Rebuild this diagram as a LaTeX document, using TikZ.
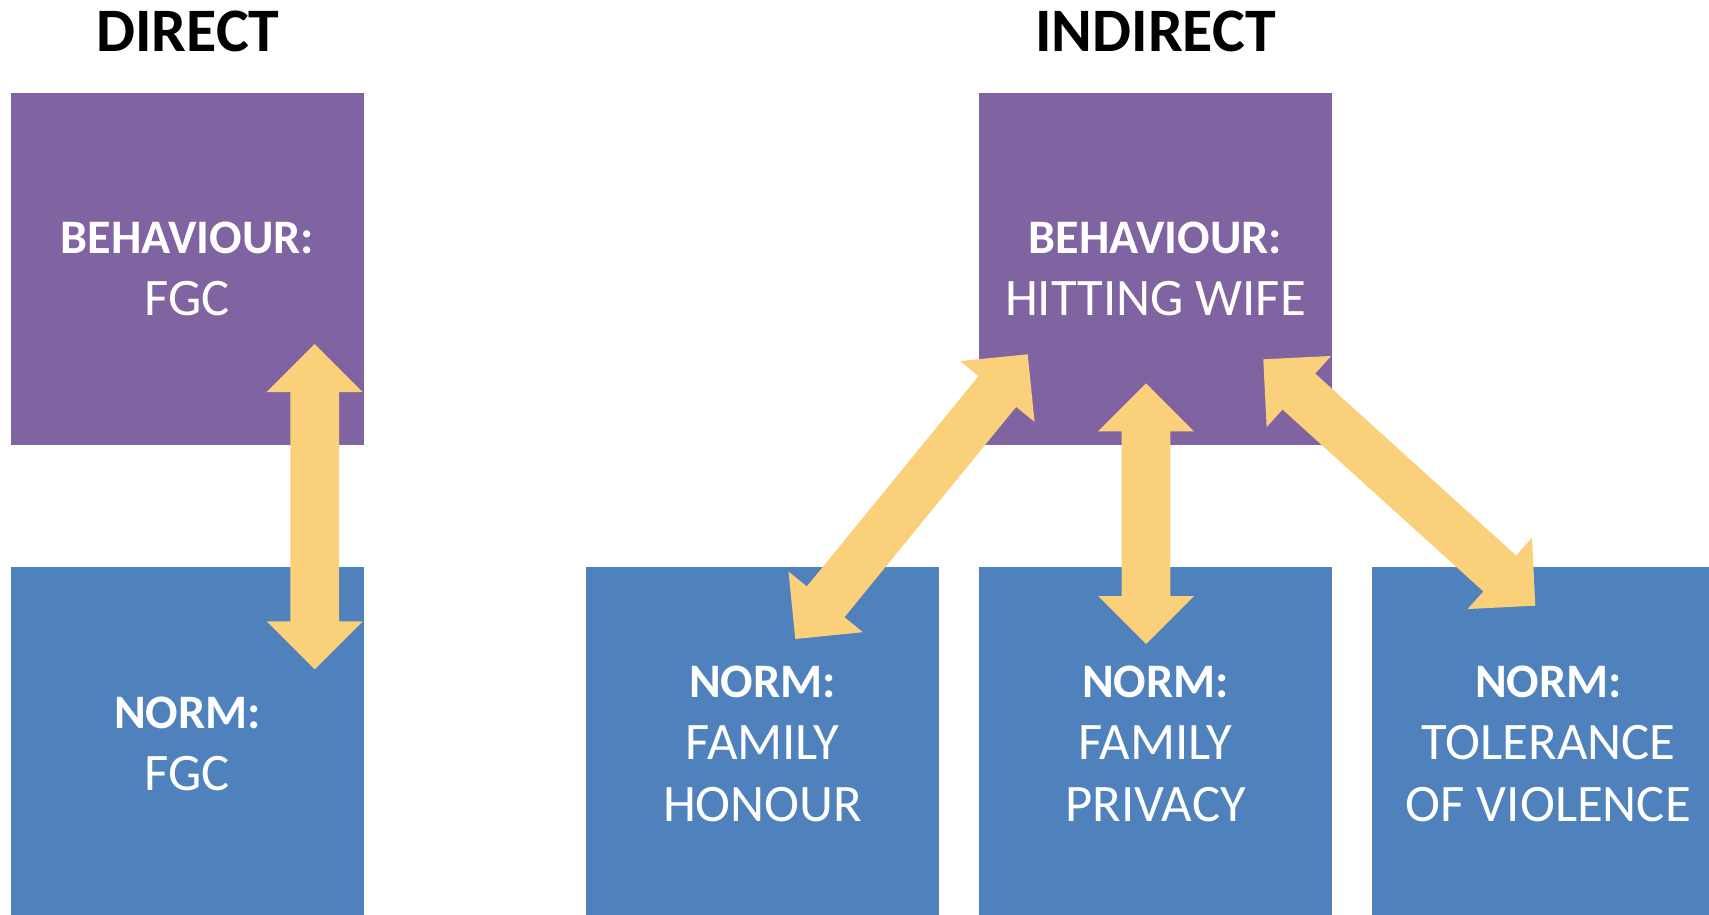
\documentclass[tikz,border=0pt]{standalone}
\usepackage{fontspec}
\setmainfont{Carlito}
\usepackage{xcolor}
\usetikzlibrary{positioning,calc}

\definecolor{behavpurple}{HTML}{8064A2}
\definecolor{normblue}{HTML}{4F81BD}
\definecolor{arrowgold}{RGB}{250,208,122}

\tikzset{
    box/.style={minimum width=3.53cm,
                minimum height=3.52cm,
                inner sep=0pt,
                text=white,
                align=center,
                font=\fontsize{15}{17.64}\selectfont},
    behav/.style={box, fill=behavpurple},
    norm/.style={box, fill=normblue},
    heading/.style={anchor=base, font=\fontsize{17.6}{22}\selectfont\bfseries}
}

% double headed block arrow between two named points
\newcommand{\bigarrow}[2]{%
    \path ($(#1)!4.8mm!(#2)$) coordinate (h1)
          ($(#2)!4.8mm!(#1)$) coordinate (h2);
    \fill[arrowgold] (#1) -- ($(h1)!4.8mm!90:(#2)$) -- ($(h1)!2.43mm!90:(#2)$)
        -- ($(h2)!2.43mm!-90:(#1)$) -- ($(h2)!4.8mm!-90:(#1)$) -- (#2)
        -- ($(h2)!4.8mm!90:(#1)$) -- ($(h2)!2.43mm!90:(#1)$)
        -- ($(h1)!2.43mm!-90:(#2)$) -- ($(h1)!4.8mm!-90:(#2)$) -- cycle;}

\newcommand{\lab}[2]{\textbf{\fontsize{13.7}{17.64}\selectfont #1}\\#2}

\begin{document}
\begin{tikzpicture}
            \clip (0,0) rectangle (17.09,9.14);
            % direct
            \node[behav] (bL) at (1.875,6.45) {\lab{BEHAVIOUR:}{FGC}};
            \node[norm, below=1.21cm of bL] (nL) {\lab{NORM:}{FGC}};
            \node[heading] (tL) at (1.88,8.63) {DIRECT};

            % indirect
            \node[behav] (bR) at (11.555,6.45) {\lab{BEHAVIOUR:}{HITTING WIFE}};
            \node[norm, below=1.21cm of bR] (n2) {\lab{NORM:}{FAMILY\\PRIVACY}};
            \node[norm, left=0.385cm of n2] (n1) {\lab{NORM:}{FAMILY\\HONOUR}};
            \node[norm, right=0.385cm of n2] (n3) {\lab{NORM:}{TOLERANCE\\OF VIOLENCE}};
            \node[heading] (tR) at (11.555,8.63) {INDIRECT};

            % arrow ends
            \coordinate (a1) at (3.147,5.70);
            \coordinate (a2) at (3.147,2.447);
            \coordinate (b1) at (10.277,5.597);
            \coordinate (b2) at (7.953,2.75);
            \coordinate (c1) at (11.46,5.307);
            \coordinate (c2) at (11.46,2.70);
            \coordinate (d1) at (12.633,5.547);
            \coordinate (d2) at (15.353,3.083);

            \bigarrow{a1}{a2}
            \bigarrow{b1}{b2}
            \bigarrow{c1}{c2}
            \bigarrow{d1}{d2}
        \end{tikzpicture}
\end{document}
